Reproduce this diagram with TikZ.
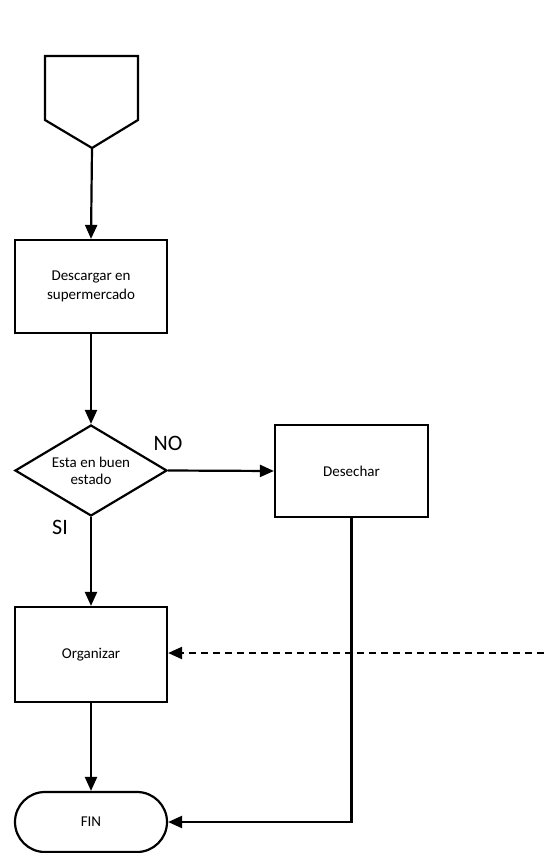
\documentclass[tikz,border=0pt]{standalone}
\usepackage{fontspec}
\setmainfont{Carlito}
\usetikzlibrary{shapes.geometric,arrows.meta}

\tikzset{
  line/.style={line width=2.2pt},
  arr/.style={line, -{Triangle[length=14pt,width=12pt]}},
  procbox/.style={draw, line width=2.2pt, rectangle, minimum width=152pt, minimum height=93pt,
                  align=center, font=\fontsize{15}{19}\selectfont, inner sep=0pt},
  decision/.style={draw, line width=2.2pt, diamond, minimum width=152pt, minimum height=91pt,
                   align=center, font=\fontsize{15}{17}\selectfont, inner sep=0pt, aspect=1.67},
  terminal/.style={draw, line width=2.2pt, rectangle, rounded corners=30pt, minimum width=152pt,
                   minimum height=60pt, font=\fontsize{15}{18}\selectfont, inner sep=0pt},
  branch/.style={font=\fontsize{22}{24}\selectfont}
}

\begin{document}
\begin{tikzpicture}[x=1pt, y=-1pt]
  \useasboundingbox (0,0) rectangle (544,853);

  % off-page connector at the top
  \draw[line, line join=miter] (45,56) -- (138,56) -- (138,120) -- (92,148) -- (45,120) -- cycle;
  \coordinate (start) at (92,148);

  \node[procbox] (desc) at (91,286.5) {Descargar en\\supermercado};
  \node[decision] (dec) at (91,470.5) {Esta en buen\\estado};
  \node[procbox, minimum width=153pt, minimum height=92pt] (des) at (351.5,471) {Desechar};
  \node[procbox, minimum height=95pt] (org) at (91,654.5) {Organizar};
  \node[terminal] (fin) at (91,822) {FIN};

  \node[branch] (no) at (168,443) {NO};
  \node[branch] (si) at (60,527) {SI};

  \coordinate (edge) at (544,653);

  \draw[arr] (start) -- (desc.north);
  \draw[arr] (desc.south) -- (dec.north);
  \draw[arr] (dec.east) -- (des.west);
  \draw[arr] (dec.south) -- (org.north);
  \draw[arr] (org.south) -- (fin.north);
  \draw[arr] (des.south) -- (des.south |- fin.east) -- (fin.east);
  \draw[arr, dash pattern=on 7pt off 5pt] (edge) -- (edge -| org.east);
\end{tikzpicture}
\end{document}
